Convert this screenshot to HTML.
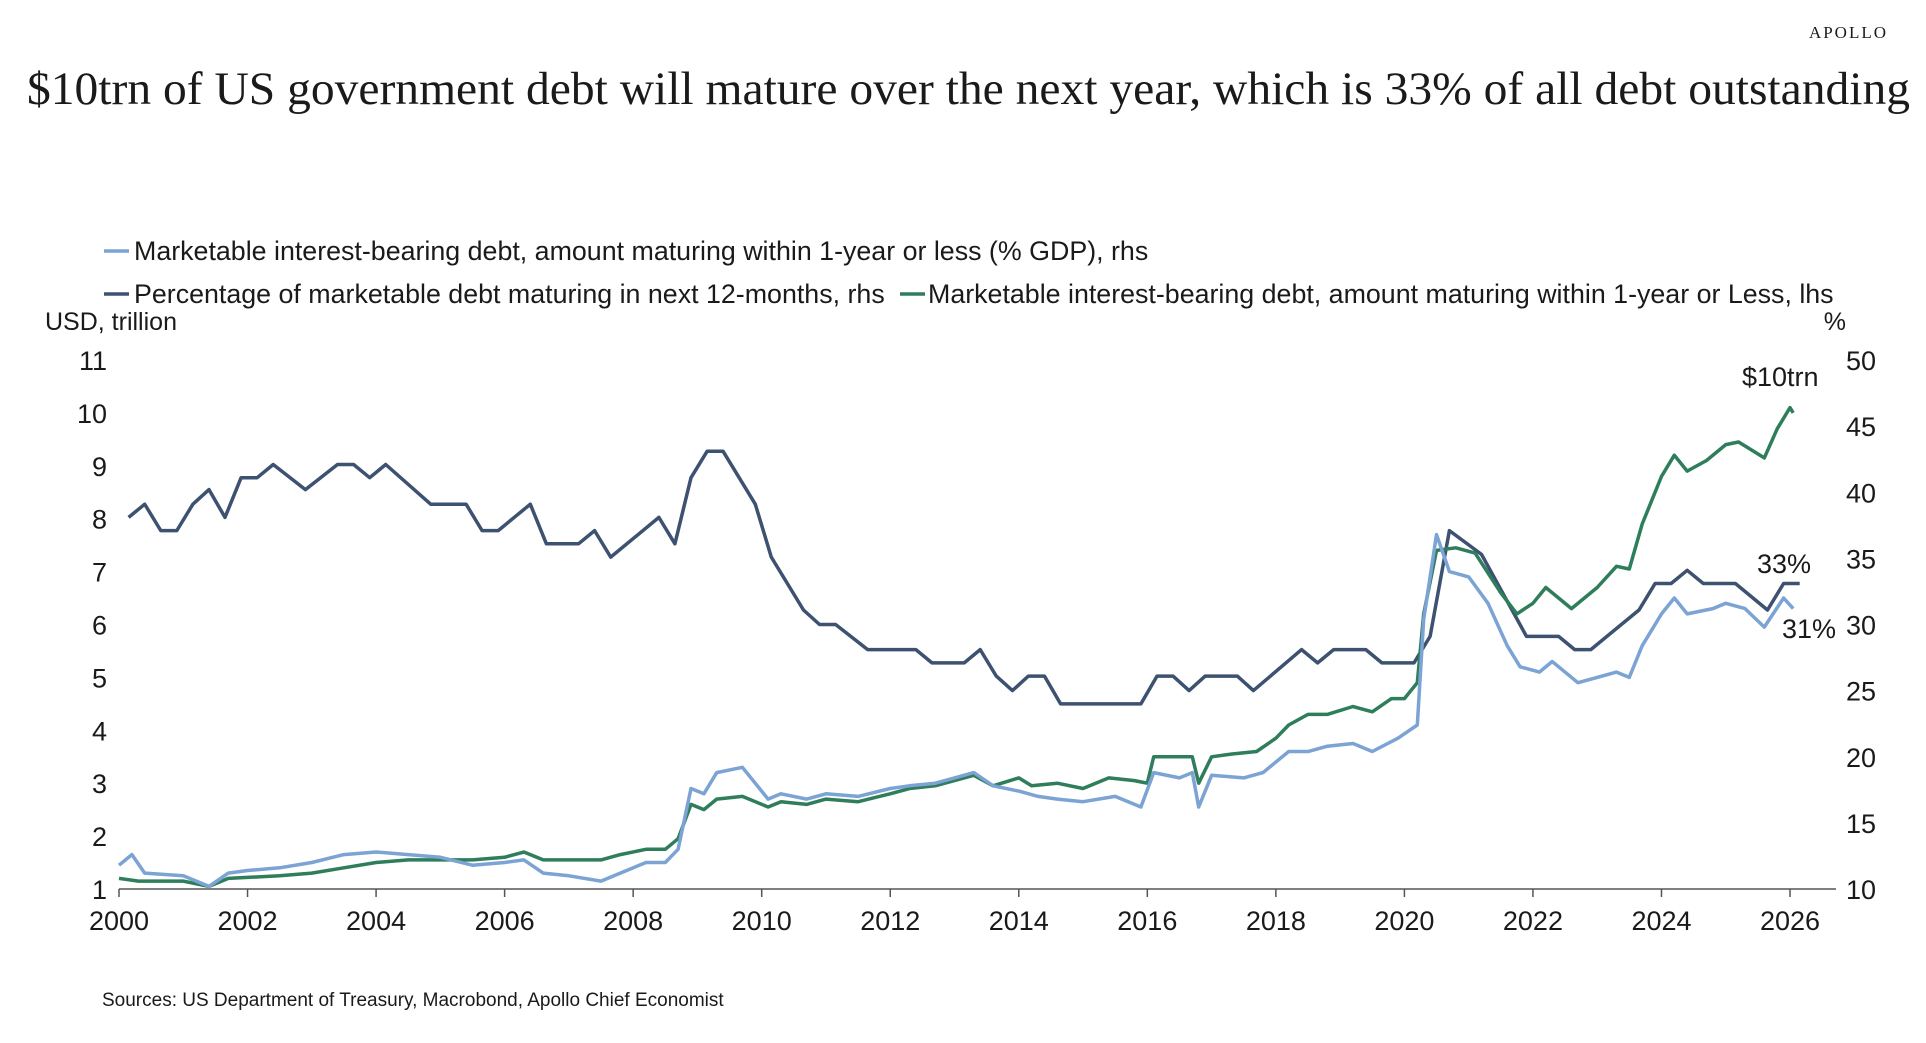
<!DOCTYPE html>
<html><head><meta charset="utf-8"><style>
body{margin:0;background:#fff;}
svg text{font-family:"Liberation Sans",sans-serif;fill:#1a1a1a;}
</style></head><body>
<svg width="1926" height="1038" viewBox="0 0 1926 1038" xmlns="http://www.w3.org/2000/svg">
<text x="1888" y="38" text-anchor="end" style="font-family:'Liberation Serif',serif;font-size:17px;letter-spacing:2px">APOLLO</text>
<text x="27" y="104" textLength="1883" lengthAdjust="spacingAndGlyphs" style="font-family:'Liberation Serif',serif;font-size:47px">$10trn of US government debt will mature over the next year, which is 33% of all debt outstanding</text>
<g>
<line x1="104" y1="251" x2="129" y2="251" stroke="#7ba3d4" stroke-width="3.5"/>
<text x="134" y="260" font-size="26.8">Marketable interest-bearing debt, amount maturing within 1-year or less (% GDP), rhs</text>
<line x1="104" y1="294" x2="129" y2="294" stroke="#3d5170" stroke-width="3.5"/>
<text x="134" y="303" font-size="26.8">Percentage of marketable debt maturing in next 12-months, rhs</text>
<line x1="900" y1="294" x2="925" y2="294" stroke="#2e7d5b" stroke-width="3.5"/>
<text x="928" y="303" font-size="26.8">Marketable interest-bearing debt, amount maturing within 1-year or Less, lhs</text>
</g>
<text x="45" y="330" font-size="25">USD, trillion</text>
<text x="1846" y="330" font-size="25" text-anchor="end">%</text>
<g id="axes"></g>
<g id="series"></g>
<text x="1742" y="386" font-size="27">$10trn</text>
<text x="1757" y="573" font-size="27">33%</text>
<text x="1782" y="638" font-size="27">31%</text>
<text x="102" y="1006" font-size="19">Sources: US Department of Treasury, Macrobond, Apollo Chief Economist</text>
</svg>
<script>
const xTicks=[2000,2002,2004,2006,2008,2010,2012,2014,2016,2018,2020,2022,2024,2026];
const leftTicks=[1,2,3,4,5,6,7,8,9,10,11];
const rightTicks=[10,15,20,25,30,35,40,45,50];
const pctDates=[2000.15,2000.4,2000.65,2000.9,2001.15,2001.4,2001.65,2001.9,2002.15,2002.4,2002.9,2003.4,2003.65,2003.9,2004.15,2004.85,2005.4,2005.65,2005.9,2006.4,2006.65,2007.15,2007.4,2007.65,2008.4,2008.65,2008.9,2009.15,2009.4,2009.9,2010.15,2010.65,2010.9,2011.15,2011.65,2012.4,2012.65,2013.15,2013.4,2013.65,2013.9,2014.15,2014.4,2014.65,2015.9,2016.15,2016.4,2016.65,2016.9,2017.4,2017.65,2018.4,2018.65,2018.9,2019.4,2019.65,2020.15,2020.4,2020.7,2021.2,2021.9,2022.4,2022.65,2022.9,2023.65,2023.9,2024.15,2024.4,2024.65,2025.15,2025.65,2025.9,2026.15];
const pctValues=[38.1,39.1,37.1,37.1,39.1,40.2,38.1,41.1,41.1,42.1,40.2,42.1,42.1,41.1,42.1,39.1,39.1,37.1,37.1,39.1,36.1,36.1,37.1,35.1,38.1,36.1,41.1,43.1,43.1,39.1,35.1,31.1,30.0,30.0,28.1,28.1,27.1,27.1,28.1,26.1,25.0,26.1,26.1,24.0,24.0,26.1,26.1,25.0,26.1,26.1,25.0,28.1,27.1,28.1,28.1,27.1,27.1,29.1,37.1,35.3,29.1,29.1,28.1,28.1,31.1,33.1,33.1,34.1,33.1,33.1,31.1,33.1,33.1];
const trnDates=[2000.0,2000.3,2001.0,2001.4,2001.7,2002.0,2002.5,2003.0,2003.5,2004.0,2004.5,2005.0,2005.5,2006.0,2006.3,2006.6,2007.0,2007.5,2007.8,2008.2,2008.5,2008.7,2008.9,2009.1,2009.3,2009.7,2010.1,2010.3,2010.7,2011.0,2011.5,2012.0,2012.3,2012.7,2013.0,2013.3,2013.6,2014.0,2014.2,2014.6,2015.0,2015.4,2015.8,2016.0,2016.1,2016.3,2016.7,2016.8,2017.0,2017.3,2017.7,2018.0,2018.2,2018.5,2018.8,2019.2,2019.5,2019.8,2020.0,2020.2,2020.3,2020.5,2020.8,2021.1,2021.5,2021.75,2022.0,2022.2,2022.6,2022.8,2023.0,2023.3,2023.5,2023.7,2024.0,2024.2,2024.4,2024.7,2025.0,2025.2,2025.6,2025.8,2026.0,2026.05];
const trnValues=[1.2,1.15,1.15,1.05,1.2,1.22,1.25,1.3,1.4,1.5,1.55,1.55,1.55,1.6,1.7,1.55,1.55,1.55,1.65,1.75,1.75,1.95,2.6,2.5,2.7,2.75,2.55,2.65,2.6,2.7,2.65,2.8,2.9,2.95,3.05,3.15,2.95,3.1,2.95,3.0,2.9,3.1,3.05,3.0,3.5,3.5,3.5,3.0,3.5,3.55,3.6,3.85,4.1,4.3,4.3,4.45,4.35,4.6,4.6,4.9,6.2,7.4,7.45,7.35,6.6,6.2,6.4,6.7,6.3,6.5,6.7,7.1,7.05,7.9,8.8,9.2,8.9,9.1,9.4,9.45,9.15,9.7,10.1,10.0];
const gdpDates=[2000.0,2000.2,2000.4,2001.0,2001.4,2001.7,2002.0,2002.5,2003.0,2003.5,2004.0,2004.5,2005.0,2005.5,2006.0,2006.3,2006.6,2007.0,2007.5,2007.8,2008.2,2008.5,2008.7,2008.9,2009.1,2009.3,2009.7,2010.1,2010.3,2010.7,2011.0,2011.5,2012.0,2012.3,2012.7,2013.0,2013.3,2013.6,2014.0,2014.3,2014.6,2015.0,2015.5,2015.9,2016.1,2016.5,2016.7,2016.8,2017.0,2017.5,2017.8,2018.2,2018.5,2018.8,2019.2,2019.5,2019.9,2020.2,2020.3,2020.5,2020.7,2021.0,2021.3,2021.6,2021.8,2022.1,2022.3,2022.7,2023.0,2023.3,2023.5,2023.7,2024.0,2024.2,2024.4,2024.8,2025.0,2025.3,2025.6,2025.9,2026.05];
const gdpValues=[11.8,12.6,11.2,11.0,10.2,11.2,11.4,11.6,12.0,12.6,12.8,12.6,12.4,11.8,12.0,12.2,11.2,11.0,10.6,11.2,12.0,12.0,13.0,17.6,17.2,18.8,19.2,16.8,17.2,16.8,17.2,17.0,17.6,17.8,18.0,18.4,18.8,17.8,17.4,17.0,16.8,16.6,17.0,16.2,18.8,18.4,18.8,16.2,18.6,18.4,18.8,20.4,20.4,20.8,21.0,20.4,21.4,22.4,30.4,36.8,34.0,33.6,31.6,28.4,26.8,26.4,27.2,25.6,26.0,26.4,26.0,28.4,30.8,32.0,30.8,31.2,31.6,31.2,29.8,32.0,31.2];

const NS='http://www.w3.org/2000/svg';
const xS=y=>119+(y-2000)*64.27;
const yL=v=>889-(v-1)*52.9;
const yR=p=>889-(p-10)*13.225;
function mk(t,a,parent){const e=document.createElementNS(NS,t);for(const k in a)e.setAttribute(k,a[k]);parent.appendChild(e);return e;}
const ax=document.getElementById('axes');
const base=mk('line',{x1:119,y1:889,x2:1836,y2:889,stroke:'#555','stroke-width':1.5},ax);


xTicks.forEach(t=>{
 const l=mk('line',{x1:xS(t),y1:889,x2:xS(t),y2:897,stroke:'#555','stroke-width':1.5},ax);
 
 
 const tx=mk('text',{x:xS(t),y:930,'text-anchor':'middle','font-size':27},ax);tx.textContent=t;
 
 
});
leftTicks.forEach(t=>{
 const tx=mk('text',{x:107,y:yL(t)+10,'text-anchor':'end','font-size':27},ax);tx.textContent=t;
 
 
});
rightTicks.forEach(t=>{
 const tx=mk('text',{x:1846,y:yR(t)+10,'font-size':27},ax);tx.textContent=t;
 
 
});
const sg=document.getElementById('series');
function line(d,v,f,c,name){
 const pts=d.map((x,i)=>xS(x).toFixed(1)+','+f(v[i]).toFixed(1)).join(' ');
 const p=mk('polyline',{points:pts,fill:'none',stroke:c,'stroke-width':3.5,'stroke-linejoin':'round'},sg);
 
 
}
line(pctDates,pctValues,yR,'#3d5170','series-pct-maturing');
line(trnDates,trnValues,yL,'#2e7d5b','series-trn-maturing');
line(gdpDates,gdpValues,yR,'#7ba3d4','series-gdp-maturing');
</script>
</body></html>
